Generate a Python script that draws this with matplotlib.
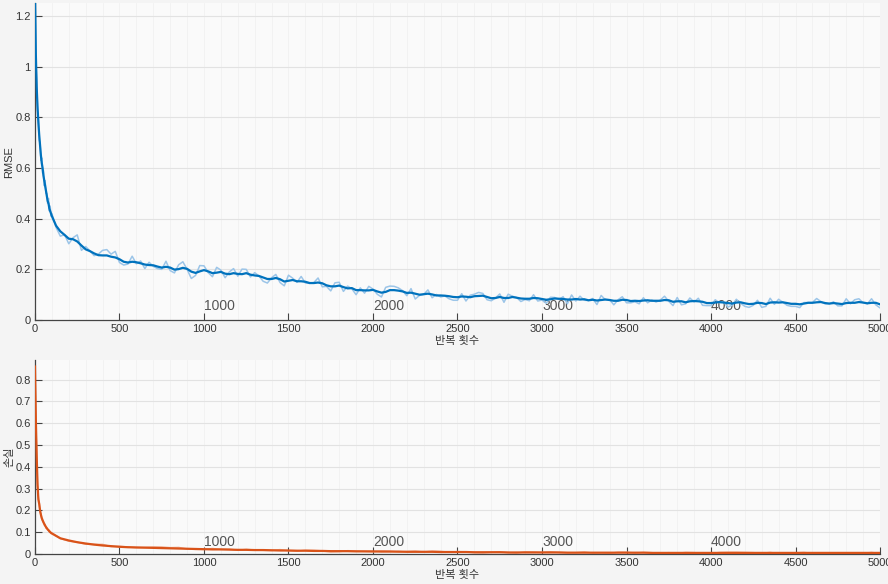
import matplotlib
matplotlib.use("Agg")
import matplotlib.pyplot as plt
from matplotlib.ticker import FormatStrFormatter

plt.rcParams['font.family'] = ['Liberation Sans', 'Noto Sans CJK KR', 'DejaVu Sans']

# ---------------- data ----------------
iters_early = list(range(0, 101, 5))
iters_main = list(range(125, 5001, 25))
rmse_iters = iters_early + iters_main

rmse_raw_early = [1.32, 1.02, 0.95, 0.83, 0.80, 0.71, 0.70, 0.63, 0.64, 0.58, 0.59,
                  0.53, 0.55, 0.50, 0.50, 0.46, 0.48, 0.43, 0.45, 0.41, 0.42]
rmse_smooth_early = [1.30, 1.05, 0.92, 0.84, 0.78, 0.73, 0.69, 0.65, 0.62, 0.60, 0.57,
                     0.55, 0.53, 0.51, 0.49, 0.47, 0.46, 0.44, 0.43, 0.42, 0.41]

rmse_raw_main = [
    0.365, 0.331, 0.337, 0.301, 0.325, 0.336, 0.275, 0.290, 0.273, 0.254, 0.260, 0.275,
    0.278, 0.260, 0.271, 0.227, 0.217, 0.221, 0.252, 0.222, 0.233, 0.203, 0.228, 0.212,
    0.203, 0.200, 0.232, 0.195, 0.186, 0.218, 0.230, 0.200, 0.164, 0.176, 0.215, 0.214,
    0.187, 0.171, 0.208, 0.197, 0.167, 0.190, 0.203, 0.173, 0.201, 0.200, 0.170, 0.187,
    0.174, 0.153, 0.146, 0.167, 0.180, 0.148, 0.135, 0.177, 0.165, 0.149, 0.172, 0.146,
    0.145, 0.148, 0.166, 0.131, 0.133, 0.115, 0.147, 0.149, 0.113, 0.134, 0.123, 0.100,
    0.127, 0.106, 0.133, 0.122, 0.102, 0.091, 0.129, 0.134, 0.133, 0.127, 0.116, 0.096,
    0.124, 0.083, 0.097, 0.101, 0.119, 0.088, 0.101, 0.091, 0.095, 0.084, 0.078, 0.078,
    0.104, 0.075, 0.098, 0.102, 0.109, 0.105, 0.080, 0.076, 0.087, 0.103, 0.070, 0.102,
    0.094, 0.089, 0.073, 0.081, 0.076, 0.100, 0.075, 0.079, 0.066, 0.090, 0.089, 0.081,
    0.092, 0.064, 0.099, 0.075, 0.094, 0.078, 0.077, 0.085, 0.061, 0.097, 0.080, 0.080,
    0.060, 0.080, 0.092, 0.068, 0.068, 0.072, 0.064, 0.088, 0.068, 0.079, 0.071, 0.079,
    0.094, 0.074, 0.057, 0.089, 0.060, 0.064, 0.087, 0.071, 0.086, 0.058, 0.057, 0.057,
    0.080, 0.068, 0.071, 0.051, 0.059, 0.082, 0.066, 0.054, 0.050, 0.058, 0.078, 0.050,
    0.054, 0.086, 0.062, 0.082, 0.070, 0.058, 0.054, 0.054, 0.049, 0.069, 0.069, 0.069,
    0.085, 0.073, 0.064, 0.064, 0.072, 0.056, 0.056, 0.084, 0.064, 0.080, 0.084, 0.068,
    0.064, 0.084, 0.060, 0.048]

rmse_smooth_main = [
    0.372, 0.350, 0.336, 0.321, 0.319, 0.310, 0.294, 0.279, 0.272, 0.263, 0.256, 0.255,
    0.255, 0.250, 0.247, 0.240, 0.230, 0.227, 0.230, 0.228, 0.224, 0.219, 0.217, 0.216,
    0.211, 0.207, 0.210, 0.207, 0.199, 0.201, 0.206, 0.202, 0.191, 0.186, 0.192, 0.197,
    0.192, 0.185, 0.187, 0.190, 0.183, 0.181, 0.185, 0.182, 0.181, 0.185, 0.179, 0.176,
    0.174, 0.168, 0.162, 0.162, 0.166, 0.161, 0.152, 0.155, 0.158, 0.153, 0.153, 0.151,
    0.146, 0.146, 0.148, 0.145, 0.137, 0.133, 0.133, 0.136, 0.130, 0.125, 0.126, 0.118,
    0.118, 0.117, 0.117, 0.119, 0.113, 0.108, 0.111, 0.118, 0.118, 0.116, 0.113, 0.107,
    0.108, 0.104, 0.100, 0.102, 0.104, 0.101, 0.097, 0.097, 0.096, 0.094, 0.091, 0.090,
    0.093, 0.092, 0.090, 0.094, 0.095, 0.096, 0.091, 0.086, 0.087, 0.091, 0.087, 0.087,
    0.091, 0.088, 0.085, 0.084, 0.084, 0.087, 0.086, 0.083, 0.080, 0.082, 0.085, 0.084,
    0.083, 0.081, 0.081, 0.083, 0.081, 0.082, 0.078, 0.080, 0.077, 0.079, 0.081, 0.079,
    0.076, 0.076, 0.080, 0.079, 0.075, 0.076, 0.075, 0.077, 0.078, 0.076, 0.076, 0.076,
    0.079, 0.078, 0.072, 0.074, 0.074, 0.070, 0.074, 0.075, 0.074, 0.072, 0.067, 0.067,
    0.069, 0.071, 0.069, 0.067, 0.065, 0.069, 0.070, 0.066, 0.063, 0.064, 0.068, 0.067,
    0.063, 0.069, 0.070, 0.069, 0.070, 0.067, 0.064, 0.064, 0.062, 0.065, 0.068, 0.068,
    0.070, 0.071, 0.067, 0.065, 0.067, 0.065, 0.063, 0.067, 0.068, 0.068, 0.071, 0.069,
    0.066, 0.068, 0.068, 0.062]

rmse_raw = rmse_raw_early + rmse_raw_main
rmse_smooth = rmse_smooth_early + rmse_smooth_main

loss_iters = iters_early + list(range(150, 5001, 50))
loss_smooth = [
    0.86, 0.62, 0.45, 0.32, 0.25, 0.23, 0.20, 0.18, 0.165, 0.155, 0.145,
    0.138, 0.130, 0.124, 0.118, 0.113, 0.109, 0.104, 0.100, 0.097, 0.094,
    0.072, 0.062, 0.054, 0.048, 0.043, 0.039, 0.036, 0.033,
    0.031, 0.030, 0.029, 0.028, 0.027, 0.026, 0.025, 0.024, 0.023, 0.022,
    0.021, 0.021, 0.020, 0.019, 0.019, 0.018, 0.018, 0.017, 0.016, 0.016,
    0.015, 0.015, 0.014, 0.014, 0.013, 0.013, 0.013, 0.012, 0.012, 0.012,
    0.011, 0.011, 0.011, 0.010, 0.010, 0.010, 0.010, 0.009, 0.009, 0.009,
    0.009, 0.008, 0.008, 0.008, 0.008, 0.007, 0.007, 0.007, 0.007, 0.007,
    0.007, 0.007, 0.006, 0.006, 0.006, 0.006, 0.006, 0.006, 0.006, 0.006,
    0.006, 0.006, 0.005, 0.005, 0.005, 0.005, 0.005, 0.005, 0.005, 0.005,
    0.005, 0.005, 0.005, 0.005, 0.005, 0.005, 0.005, 0.005, 0.005, 0.005,
    0.005, 0.005, 0.005, 0.005, 0.005, 0.005, 0.005, 0.005, 0.005, 0.005]
loss_raw = [
    0.87, 0.60, 0.47, 0.31, 0.26, 0.235, 0.19, 0.185, 0.16, 0.152, 0.150,
    0.133, 0.135, 0.118, 0.121, 0.110, 0.112, 0.101, 0.104, 0.094, 0.097,
    0.071, 0.059, 0.054, 0.045, 0.044, 0.044, 0.034, 0.035,
    0.032, 0.029, 0.030, 0.032, 0.032, 0.029, 0.030, 0.023, 0.021, 0.021,
    0.025, 0.021, 0.022, 0.017, 0.021, 0.018, 0.017, 0.016, 0.020, 0.015,
    0.013, 0.017, 0.017, 0.014, 0.010, 0.011, 0.015, 0.014, 0.012, 0.010,
    0.014, 0.013, 0.009, 0.011, 0.013, 0.009, 0.013, 0.012, 0.008, 0.011,
    0.009, 0.006, 0.005, 0.008, 0.010, 0.006, 0.004, 0.010, 0.009, 0.007,
    0.010, 0.007, 0.006, 0.006, 0.009, 0.004, 0.005, 0.003, 0.008, 0.008,
    0.004, 0.007, 0.006, 0.002, 0.006, 0.003, 0.007, 0.006, 0.003, 0.002,
    0.007, 0.008, 0.008, 0.007, 0.006, 0.003, 0.007, 0.002, 0.004, 0.005,
    0.007, 0.003, 0.005, 0.004, 0.005, 0.003, 0.003, 0.003, 0.007, 0.002]

x_ticks = [0, 500, 1000, 1500, 2000, 2500, 3000, 3500, 4000, 4500, 5000]
rmse_yticks = [0, 0.2, 0.4, 0.6, 0.8, 1.0, 1.2]
loss_yticks = [0, 0.1, 0.2, 0.3, 0.4, 0.5, 0.6, 0.7, 0.8]
epoch_marks = [1000, 2000, 3000, 4000]
epoch_labels = ['1000', '2000', '3000', '4000']
xlabel_text = '반복 횟수'

# ---------------- figure ----------------
fig = plt.figure(figsize=(8.88, 5.84), dpi=100, facecolor='#f4f4f4')
ax1 = fig.add_axes([0.0394, 0.452, 0.9516, 0.5423])
ax2 = fig.add_axes([0.0394, 0.0514, 0.9516, 0.3322])

BLUE_D = '#0072bd'
BLUE_L = '#9cc5e8'
ORG_D = '#d95319'
ORG_L = '#f0ad90'


def style(ax, yticks, ylim, ylabel, ylab_x):
    ax.set_facecolor('#fafafa')
    ax.set_xlim(0, 5000)
    ax.set_ylim(*ylim)
    ax.set_xticks(x_ticks)
    ax.set_yticks(yticks)
    ax.yaxis.set_major_formatter(FormatStrFormatter('%g'))
    for v in range(100, 5000, 100):
        ax.axvline(v, color='#f1f1f1', lw=0.6, zorder=0)
    for y in yticks[1:]:
        ax.axhline(y, color='#e2e2e2', lw=0.8, zorder=0.5)
    for s in ['top', 'right']:
        ax.spines[s].set_visible(False)
    for s in ['left', 'bottom']:
        ax.spines[s].set_color('#444444')
        ax.spines[s].set_linewidth(0.9)
    ax.tick_params(direction='in', length=5, width=0.8, colors='#444444',
                   labelsize=8, labelcolor='#333333', pad=3)
    ax.set_xlabel(xlabel_text, fontsize=8, color='#333333', labelpad=1)
    ax.set_ylabel(ylabel, fontsize=8, color='#333333')
    ax.yaxis.set_label_coords(ylab_x, 0.5)


style(ax1, rmse_yticks, (0, 1.25), 'RMSE', -0.0245)
style(ax2, loss_yticks, (0, 0.89), '손실', -0.0245)

for m, lab in zip(epoch_marks, epoch_labels):
    ax1.text(m, 0.028, lab, ha='left', va='bottom', fontsize=10, color='#555555', zorder=1)
    ax2.text(m, 0.024, lab, ha='left', va='bottom', fontsize=10, color='#555555', zorder=1)

ax1.plot(rmse_iters, rmse_raw, color=BLUE_L, lw=1.1, zorder=2)
ax1.plot(rmse_iters, rmse_smooth, color=BLUE_D, lw=1.6, zorder=3)

ax2.plot(loss_iters, loss_raw, color=ORG_L, lw=1.1, zorder=2)
ax2.plot(loss_iters, loss_smooth, color=ORG_D, lw=1.6, zorder=3)

fig.savefig('out.png', dpi=100, facecolor=fig.get_facecolor())
